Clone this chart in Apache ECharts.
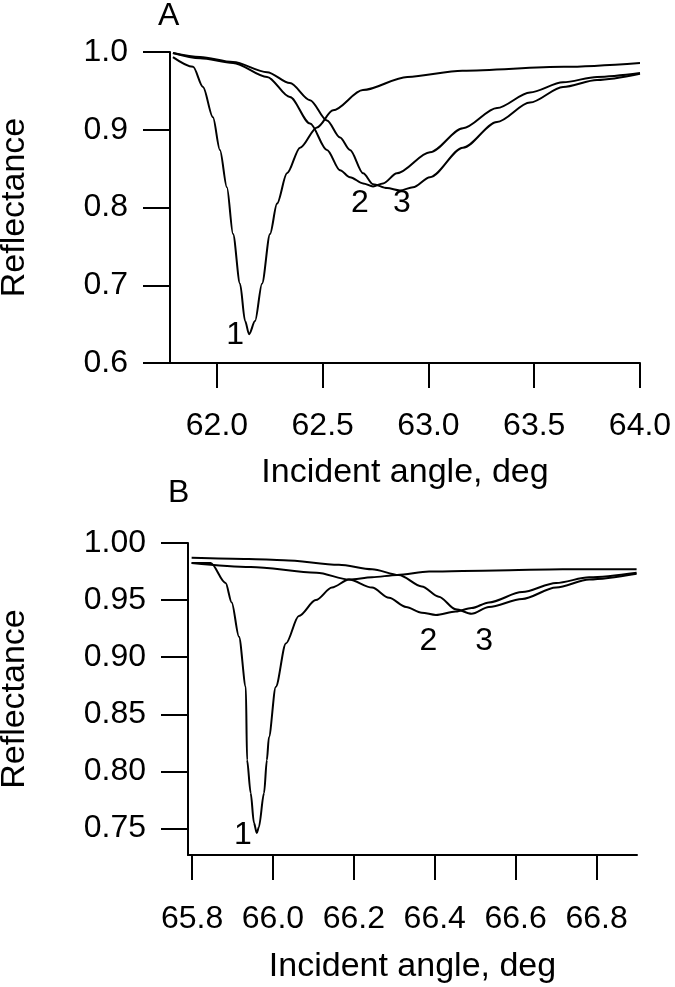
<!DOCTYPE html>
<html><head><meta charset="utf-8">
<script src="https://cdn.jsdelivr.net/npm/echarts@6/dist/echarts.min.js"></script>
<style>html,body{margin:0;padding:0;background:#fff}#c{width:675px;height:987px}</style>
</head><body><div id="c"></div><script>
// ---------- Panel A ----------
const aTicksX = [62.0, 62.5, 63.0, 63.5, 64.0];
const aTicksY = [0.6, 0.7, 0.8, 0.9, 1.0];
const aCurve1X = [61.792, 61.887, 61.934, 61.981, 62.014, 62.047, 62.076, 62.109, 62.133, 62.152, 62.180, 62.213, 62.251, 62.284, 62.331, 62.393, 62.473, 62.549, 62.69, 62.90, 63.16, 63.64, 64.0];
const aCurve1Y = [0.9935, 0.981, 0.955, 0.916, 0.874, 0.826, 0.766, 0.702, 0.654, 0.637, 0.654, 0.702, 0.766, 0.805, 0.844, 0.877, 0.903, 0.925, 0.951, 0.968, 0.976, 0.981, 0.986];
const aCurve2X = [61.792, 61.920, 62.076, 62.237, 62.345, 62.440, 62.520, 62.582, 62.629, 62.691, 62.738, 62.785, 62.851, 63.007, 63.163, 63.324, 63.480, 63.636, 63.797, 64.0];
const aCurve2Y = [0.9987, 0.992, 0.986, 0.968, 0.942, 0.908, 0.874, 0.848, 0.839, 0.831, 0.827, 0.831, 0.844, 0.871, 0.902, 0.928, 0.948, 0.961, 0.968, 0.973];
const aCurve3X = [61.792, 61.920, 62.076, 62.237, 62.345, 62.440, 62.520, 62.582, 62.629, 62.691, 62.738, 62.804, 62.865, 62.927, 63.007, 63.163, 63.324, 63.480, 63.636, 63.797, 64.0];
const aCurve3Y = [0.9987, 0.9935, 0.987, 0.974, 0.960, 0.938, 0.912, 0.890, 0.874, 0.844, 0.830, 0.825, 0.822, 0.826, 0.839, 0.877, 0.910, 0.935, 0.955, 0.964, 0.972];
const aLabelText = ['1', '2', '3'];
const aLabelX = [62.086, 62.676, 62.874];
const aLabelY = [0.636, 0.805, 0.805];

// ---------- Panel B ----------
const bTicksX = [65.8, 66.0, 66.2, 66.4, 66.6, 66.8];
const bTicksY = [0.75, 0.80, 0.85, 0.90, 0.95, 1.00];
const bCurve1X = [65.799, 65.846, 65.883, 65.898, 65.916, 65.933, 65.936, 65.945, 65.953, 65.960, 65.965, 65.978, 65.985, 65.990, 66.007, 66.032, 66.064, 66.106, 66.146, 66.188, 66.245, 66.307, 66.386, 66.552, 66.716, 66.899];
const bCurve1Y = [0.9825, 0.9825, 0.965, 0.948, 0.918, 0.874, 0.810, 0.781, 0.755, 0.746, 0.751, 0.781, 0.810, 0.830, 0.874, 0.912, 0.936, 0.950, 0.961, 0.968, 0.970, 0.972, 0.975, 0.976, 0.977, 0.977];
const bCurve2X = [65.799, 65.945, 66.108, 66.188, 66.245, 66.287, 66.329, 66.368, 66.403, 66.452, 66.491, 66.534, 66.616, 66.700, 66.782, 66.899];
const bCurve2Y = [0.9825, 0.979, 0.974, 0.968, 0.961, 0.952, 0.944, 0.939, 0.937, 0.940, 0.943, 0.948, 0.957, 0.965, 0.970, 0.974];
const bCurve3X = [65.799, 65.94, 66.027, 66.163, 66.245, 66.311, 66.368, 66.410, 66.452, 66.491, 66.534, 66.616, 66.700, 66.782, 66.899];
const bCurve3Y = [0.987, 0.986, 0.985, 0.981, 0.977, 0.972, 0.962, 0.953, 0.942, 0.938, 0.944, 0.951, 0.961, 0.968, 0.973];
const bLabelText = ['1', '2', '3'];
const bLabelX = [65.926, 66.384, 66.522];
const bLabelY = [0.7443, 0.914, 0.914];

const FONT = "'Liberation Sans', Arial, sans-serif";
const FS = 32;
const FT = 34;
const zip = (xs, ys) => xs.map((x, i) => [x, ys[i]]);
const labelsData = (t, xs, ys) => t.map((s, i) => ({ name: s, value: [xs[i], ys[i]] }));

function xAxis(gi, min, max, ticks, gap, margin) {
  return {
    type: 'value', gridIndex: gi, min: min, max: max,
    name: 'Incident angle, deg', nameLocation: 'middle', nameGap: gap,
    nameTextStyle: { fontSize: FT, fontFamily: FONT, color: '#000' },
    axisLine: { show: true, onZero: false, lineStyle: { color: '#000', width: 2 } },
    axisTick: { show: true, length: 25, customValues: ticks, lineStyle: { color: '#000', width: 2 } },
    axisLabel: { customValues: ticks, margin: margin, fontSize: FS, fontFamily: FONT, color: '#000', formatter: v => v.toFixed(1) },
    splitLine: { show: false }
  };
}
function yAxis(gi, min, max, ticks, dec, gap, margin) {
  return {
    type: 'value', gridIndex: gi, min: min, max: max,
    name: 'Reflectance', nameLocation: 'middle', nameGap: gap, nameRotate: 90,
    nameTextStyle: { fontSize: FT, fontFamily: FONT, color: '#000' },
    axisLine: { show: true, onZero: false, lineStyle: { color: '#000', width: 2 } },
    axisTick: { show: true, length: 27, customValues: ticks, lineStyle: { color: '#000', width: 2 } },
    axisLabel: { customValues: ticks, margin: margin, fontSize: FS, fontFamily: FONT, color: '#000', formatter: v => v.toFixed(dec) },
    splitLine: { show: false }
  };
}
function line(gi, data) {
  return {
    type: 'line', xAxisIndex: gi, yAxisIndex: gi, data: data, showSymbol: false,
    smooth: 0.3, smoothMonotone: 'x',
    lineStyle: { color: '#000', width: 2 }, silent: true
  };
}
function labels(gi, data) {
  return {
    type: 'scatter', xAxisIndex: gi, yAxisIndex: gi, data: data, symbolSize: 1,
    itemStyle: { color: 'rgba(0,0,0,0)', opacity: 1 },
    label: { show: true, position: 'inside', formatter: p => p.name, fontSize: FS, fontFamily: FONT, color: '#000', opacity: 1 },
    silent: true
  };
}

const chart = echarts.init(document.getElementById('c'), null, { renderer: 'canvas' });
chart.setOption({
  animation: false,
  backgroundColor: '#fff',
  title: [
    { text: 'A', left: 158, top: 0, padding: 0, textStyle: { fontSize: FS, fontWeight: 'normal', fontFamily: FONT, color: '#000' } },
    { text: 'B', left: 168, top: 477, padding: 0, textStyle: { fontSize: FS, fontWeight: 'normal', fontFamily: FONT, color: '#000' } }
  ],
  grid: [
    { left: 170, top: 52, width: 470, height: 311, containLabel: false, outerBoundsMode: 'none' },
    { left: 188, top: 543, width: 449, height: 312, containLabel: false, outerBoundsMode: 'none' }
  ],
  xAxis: [xAxis(0, 61.778, 64.0, aTicksX, 93, 47), xAxis(1, 65.79, 66.9, bTicksX, 95, 48)],
  yAxis: [yAxis(0, 0.6, 1.0, aTicksY, 1, 138, 42), yAxis(1, 0.7268, 1.0, bTicksY, 2, 156, 42)],
  series: [
    line(0, zip(aCurve1X, aCurve1Y)), line(0, zip(aCurve2X, aCurve2Y)), line(0, zip(aCurve3X, aCurve3Y)),
    labels(0, labelsData(aLabelText, aLabelX, aLabelY)),
    line(1, zip(bCurve1X, bCurve1Y)), line(1, zip(bCurve2X, bCurve2Y)), line(1, zip(bCurve3X, bCurve3Y)),
    labels(1, labelsData(bLabelText, bLabelX, bLabelY))
  ]
});
</script></body></html>
